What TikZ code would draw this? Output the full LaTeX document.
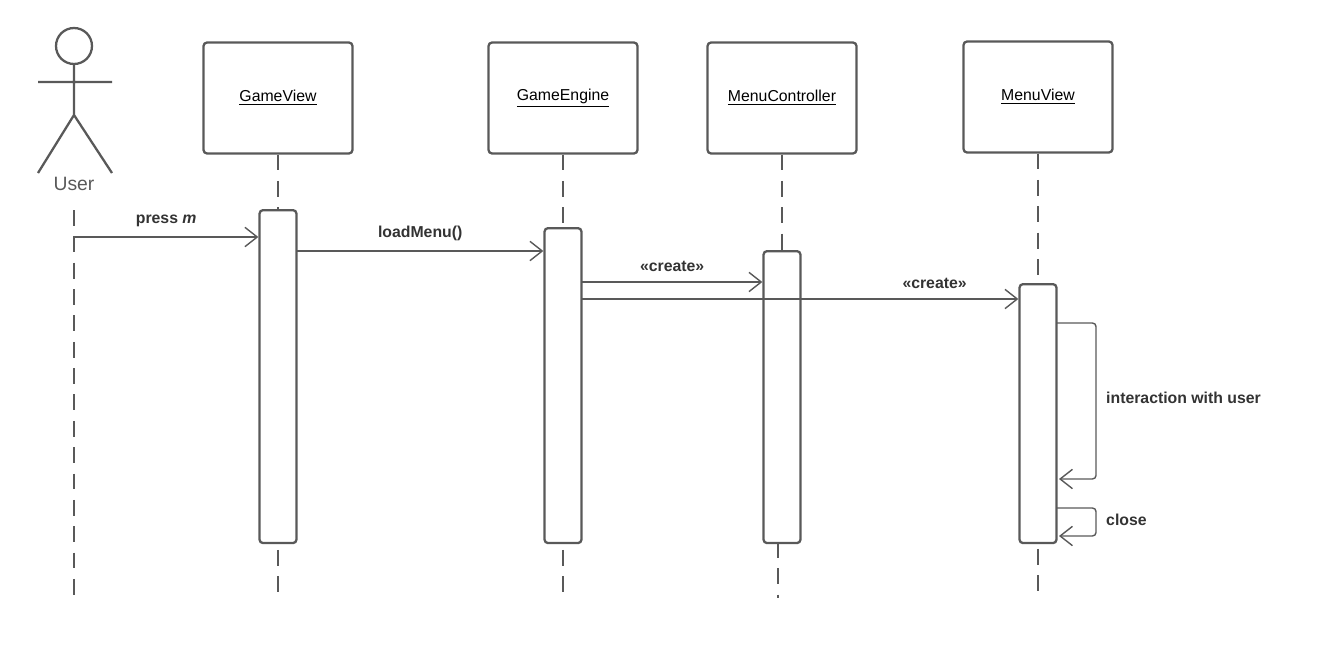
\documentclass[tikz,border=0pt]{standalone}
\usepackage{fontspec}
\setmainfont{Liberation Sans}
\usetikzlibrary{arrows.meta}
\definecolor{linegray}{HTML}{595959}
\tikzset{
  obj/.style={draw=linegray,line width=1.3pt,rounded corners=2pt,minimum width=2.98cm,minimum height=2.22cm,font=\fontsize{9}{11}\selectfont},
  act/.style={draw=linegray,line width=1.3pt,rounded corners=2pt,fill=white,minimum width=0.74cm,inner sep=0pt},
  life/.style={draw=linegray,line width=0.8pt,dash pattern=on 9pt off 6pt},
  msg/.style={draw=linegray,line width=0.8pt,-{Straight Barb[length=7pt,width=11pt]}},
  lbl/.style={font=\bfseries\fontsize{9}{11}\selectfont,text=black!80}
}
\begin{document}
\begin{tikzpicture}[x=0.02cm,y=-0.02cm]
\useasboundingbox (0,0) rectangle (1318,652);
% actor
\node[circle,draw=linegray,line width=1.3pt,minimum size=0.72cm,inner sep=0pt] (head) at (74,46) {};
\draw[linegray,line width=1.3pt] (head.south) -- (74,115) coordinate (hip)
  (38,82) -- (112,82) (38,173) -- (hip) -- (112,173);
\node[font=\fontsize{11}{13}\selectfont,text=linegray] (user) at (74,184) {User};
% objects
\node[obj] (gv) at (278,98) {\underline{GameView}};
\node[obj] (ge) at (563,98) {\underline{GameEngine}};
\node[obj] (mc) at (782,98) {\underline{MenuController}};
\node[obj] (mv) at (1038,97) {\underline{MenuView}};
% lifelines
\coordinate (uend) at (74,598);
\coordinate (gvend) at (278,598);
\coordinate (geend) at (563,598);
\coordinate (mcend) at (778,598);
\coordinate (mvend) at (1038,598);
\path[life] (74,210) -- (uend) (gv.south) -- (gvend) (ge.south) -- (geend)
  (mc.south) -- (782,250) (778,542) -- (mcend) (mv.south) -- (mvend);
% activations
\node[act,minimum height=6.66cm,anchor=north] (agv) at (278,209) {};
\node[act,minimum height=6.3cm,anchor=north] (age) at (563,227) {};
\node[act,minimum height=5.84cm,anchor=north] (amc) at (782,250) {};
\node[act,minimum height=5.18cm,anchor=north] (amv) at (1038,283) {};
% messages
\coordinate (u1) at (74,237);
\draw[msg] (u1) -- (agv.west |- u1) node[lbl,midway,above=2pt] {press \textit{m}};
\coordinate (g1) at (297,251);
\draw[msg] (g1) -- (age.west |- g1) node[lbl,midway,above=2pt] {loadMenu()};
\coordinate (e1) at (582,282);
\draw[msg] (e1) -- (amc.west |- e1) node[lbl,midway,above=2pt] {<<create>>};
\coordinate (e2) at (582,299);
\draw[msg] (e2) -- (amv.west |- e2) node[lbl,pos=0.808,above=2pt] {<<create>>};
% self messages
\draw[msg,rounded corners=2pt] (1057,323) -- (1096,323) -- (1096,479) -- (1059,479);
\node[lbl,anchor=west] (inter) at (1100,398) {interaction with user};
\draw[msg,rounded corners=2pt] (1057,508) -- (1096,508) -- (1096,536) -- (1059,536);
\node[lbl,anchor=west] (close) at (1100,520) {close};
\end{tikzpicture}
\end{document}
